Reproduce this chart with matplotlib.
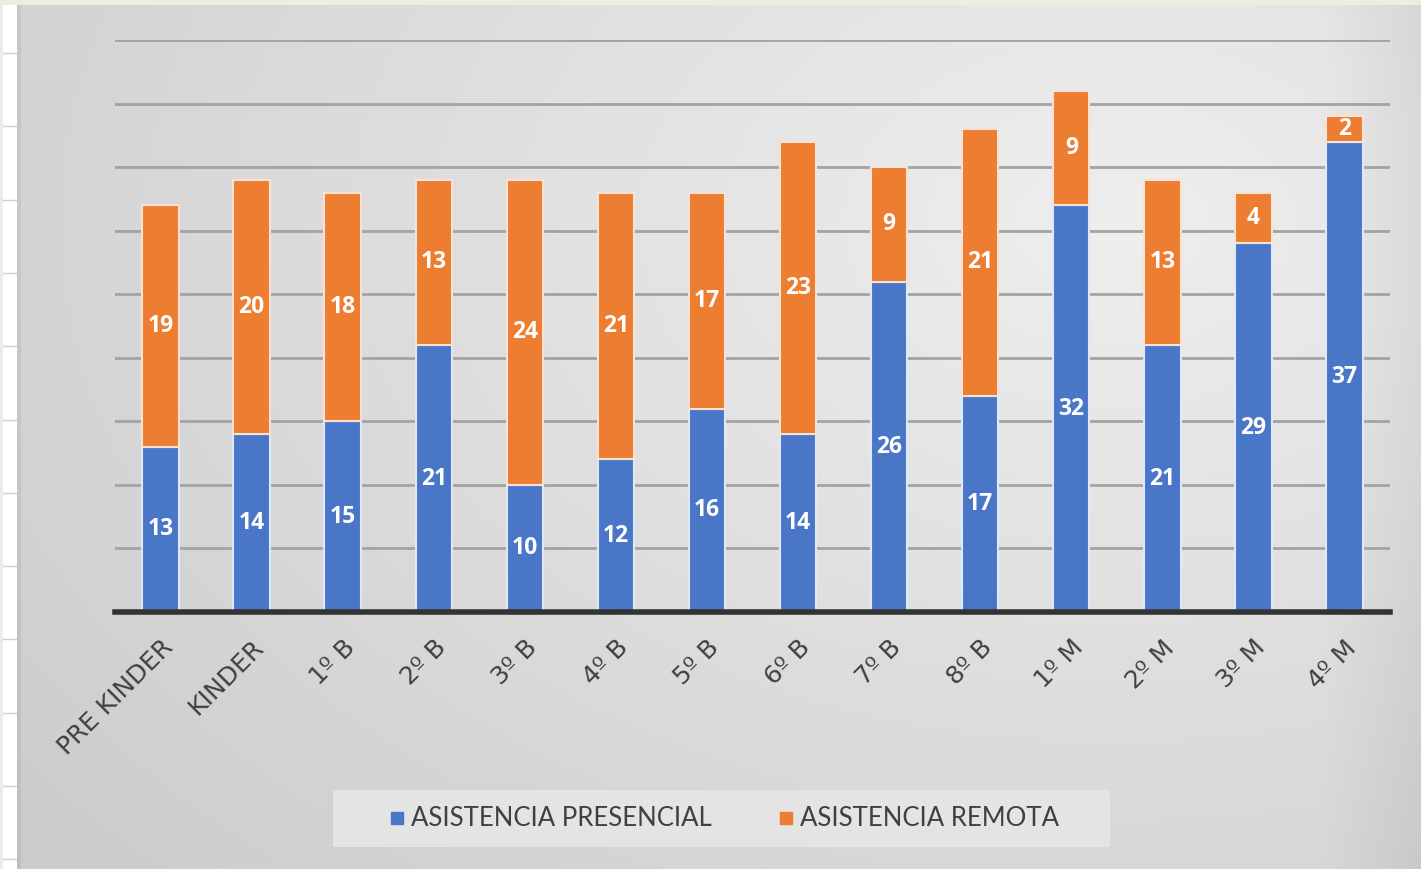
import numpy as np
import matplotlib
matplotlib.use("Agg")
from matplotlib import pyplot as plt
from matplotlib.lines import Line2D

# datos
categorias = ['PRE KINDER', 'KINDER', '1º B', '2º B', '3º B', '4º B', '5º B',
              '6º B', '7º B', '8º B', '1º M', '2º M', '3º M', '4º M']
presencial = [13, 14, 15, 21, 10, 12, 16, 14, 26, 17, 32, 21, 29, 37]
remota = [19, 20, 18, 13, 24, 21, 17, 23, 9, 21, 9, 13, 4, 2]
series = ['ASISTENCIA PRESENCIAL', 'ASISTENCIA REMOTA']

plt.rcParams['font.family'] = ['Open Sans', 'DejaVu Sans']

W, H = 1421, 869
fig = plt.figure(figsize=(W / 100, H / 100), dpi=100)
fig.patch.set_facecolor('#efece4')

# franja blanca izquierda con marcas
strip = fig.add_axes([3 / W, 0, 14 / W, (H - 5) / H])
strip.set_xlim(0, 1)
strip.set_ylim(H - 5, 0)
strip.axis('off')
strip.add_patch(plt.Rectangle((0, 0), 1, H, color='white'))
for yy in np.arange(48, H, 73.3):
    strip.plot([0, 1], [yy, yy], color='#cfcfcf', lw=1)

# fondo degradado (radial, mas claro arriba a la derecha)
bg = fig.add_axes([17 / W, 0, (W - 17) / W, (H - 5) / H])
gx = np.linspace(0, 1, 700)
gy = np.linspace(0, 1, 300)
X, Y = np.meshgrid(gx, gy)
d = np.sqrt(((X - 0.78) / 0.9) ** 2 + ((Y - 0.25) / 1.0) ** 2)
grad = 0.935 - 0.12 * d
grad -= 0.05 * np.clip((X - 0.93) / 0.07, 0, 1)
grad[:, :2] -= 0.05
bg.imshow(np.dstack([grad, grad, grad]).clip(0, 1), aspect='auto', extent=[0, 1, 0, 1], origin='upper')
bg.axis('off')

# grafico principal
ax = fig.add_axes([115 / W, (H - 612) / H, (1390 - 115) / W, (612 - 40) / H])
ax.patch.set_alpha(0)
x = np.arange(len(categorias))
b1 = ax.bar(x, presencial, width=0.4, color='#4a76c8', edgecolor='#dfe8f7', linewidth=1.5, zorder=3)
b2 = ax.bar(x, remota, width=0.4, bottom=presencial, color='#ed7d31', edgecolor='#f7e3d4', linewidth=1.5, zorder=3)
for c in (b1, b2):
    ax.bar_label(c, label_type='center', color='white', fontweight='bold', fontsize=16.5)

ax.set_xlim(-0.5, len(categorias) - 0.5)
ax.set_ylim(0, 45)
ax.set_yticks(np.arange(5, 46, 5))
ax.yaxis.grid(True, color='#a3a3a3', linewidth=2, zorder=0)
ax.set_axisbelow(True)
ax.tick_params(axis='y', left=False, labelleft=False)
ax.tick_params(axis='x', length=0, pad=17)
for s in ['top', 'right', 'left']:
    ax.spines[s].set_visible(False)
ax.spines['bottom'].set_color('#333333')
ax.spines['bottom'].set_linewidth(4)
ax.spines['bottom'].set_zorder(4)
ax.set_xticks(x)
ax.set_xticklabels(categorias, rotation=45, ha='right', rotation_mode='anchor',
                   fontsize=18, color='#404040', family=['DejaVu Sans'])

# leyenda
box = plt.Rectangle((333 / W, 1 - 847 / H), (1110 - 333) / W, 57 / H, transform=fig.transFigure,
                    facecolor='#e4e4e4', edgecolor='none', zorder=1)
fig.patches.append(box)
handles = [Line2D([], [], marker='s', ls='', color='#4a76c8', markersize=9),
           Line2D([], [], marker='s', ls='', color='#ed7d31', markersize=9)]
leg = fig.legend(handles, series, loc='center', bbox_to_anchor=((333 + 1110) / 2 / W, 1 - 819 / H),
                 ncol=2, frameon=False, handletextpad=0.05, columnspacing=2.4,
                 labelcolor='#404040', handlelength=1.0, prop={'family': ['Lato', 'DejaVu Sans'], 'size': 18.5})

fig.savefig('out.png', dpi=100)
